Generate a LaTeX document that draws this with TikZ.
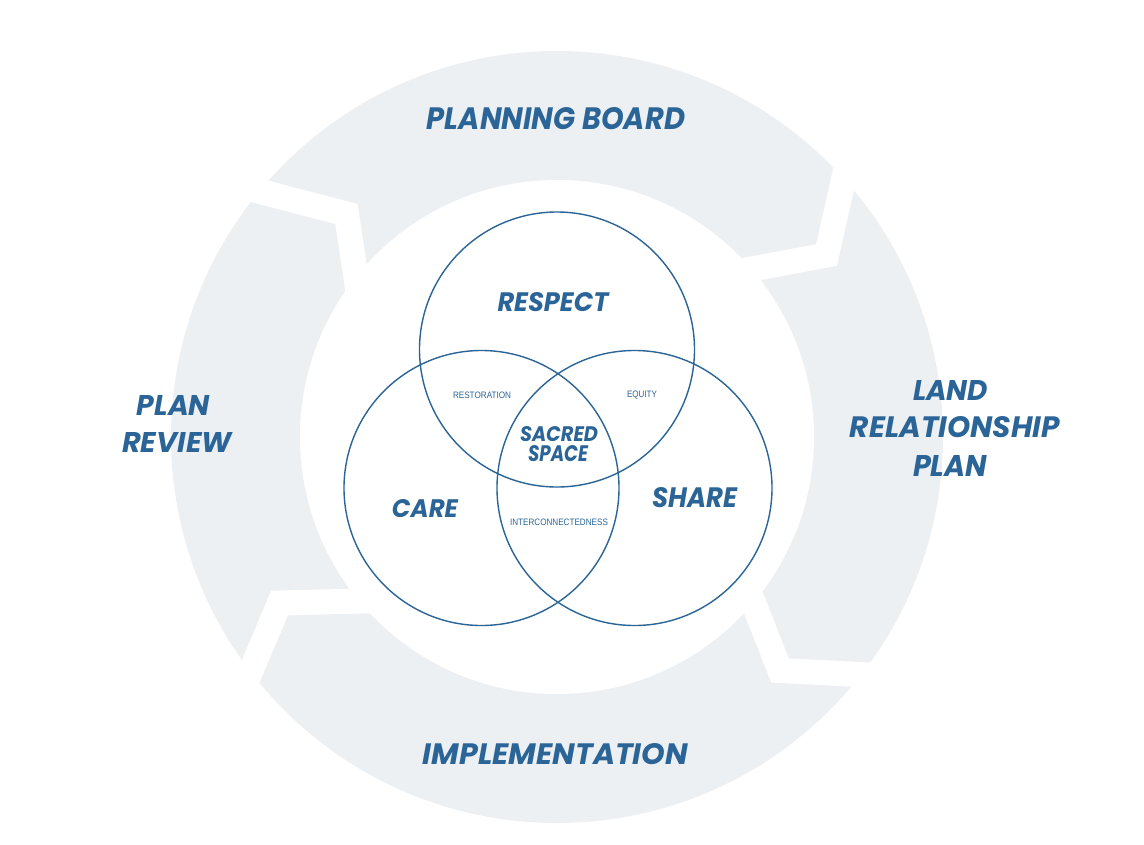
\documentclass[tikz,border=0pt]{standalone}
\usepackage{fontspec}
\setmainfont{Liberation Sans}
\newfontfamily\brushfont{Poppins}
\definecolor{ringgray}{HTML}{EDF0F3}
\definecolor{vennblue}{HTML}{2B6597}
\newcommand\bt[3]{\resizebox{#1pt}{#2pt}{\brushfont\bfseries\itshape #3}}
\newcommand\stxt[2]{\resizebox{#1pt}{6.5pt}{\fontsize{9}{9}\selectfont #2}}
\tikzset{
  brush/.style={inner sep=0pt, text=vennblue},
  smalltxt/.style={inner sep=0pt, text=vennblue},
  venn/.style={circle, draw=vennblue, line width=1.4pt, minimum size=275pt, inner sep=0pt},
  gapline/.style={draw=white, line width=25pt, line join=miter},
}
\begin{document}
\begin{tikzpicture}[x=1pt, y=-1pt]
\useasboundingbox (0,0) rectangle (1144,844);
% ring
\coordinate (c) at (557,437);
\fill[ringgray] (c) circle[radius=386pt];
\fill[white] (c) circle[radius=257pt];
% chevron gaps
\coordinate (g1o) at (243,187); \coordinate (g1m) at (346.5,214); \coordinate (g1i) at (359,298);
\coordinate (g2o) at (847,164); \coordinate (g2m) at (826.5,255); \coordinate (g2i) at (736,272);
\coordinate (g3o) at (876,675.3); \coordinate (g3m) at (780,670.5); \coordinate (g3i) at (748,589);
\coordinate (g4o) at (245,685); \coordinate (g4m) at (279.5,603); \coordinate (g4i) at (377,600.6);
\draw[gapline] (g1o) -- (g1m) -- (g1i);
\draw[gapline] (g2o) -- (g2m) -- (g2i);
\draw[gapline] (g3o) -- (g3m) -- (g3i);
\draw[gapline] (g4o) -- (g4m) -- (g4i);
% venn
\node[venn] (respectc) at (557,349.5) {};
\node[venn] (carec) at (481.5,488) {};
\node[venn] (sharec) at (634.5,488) {};
% ring labels
\node[brush] (pb) at (556,119) {\bt{258}{22}{PLANNING BOARD}};
\node[brush] (lrp1) at (950.5,390) {\bt{75}{20}{LAND}};
\node[brush] (lrp2) at (955,427.5) {\bt{210}{21}{RELATIONSHIP}};
\node[brush] (lrp3) at (950,466) {\bt{74}{21}{PLAN}};
\node[brush] (impl) at (555.5,754.5) {\bt{265}{21}{IMPLEMENTATION}};
\node[brush] (pr1) at (173.5,405) {\bt{73}{20}{PLAN}};
\node[brush] (pr2) at (177,442) {\bt{110}{20}{REVIEW}};
% venn labels
\node[brush] (respect) at (553,302.5) {\bt{111}{19}{RESPECT}};
\node[brush] (care) at (425,509) {\bt{66}{18}{CARE}};
\node[brush] (share) at (694.5,498) {\bt{85}{20}{SHARE}};
\node[brush] (sacred) at (559,434.5) {\bt{78}{15}{SACRED}};
\node[brush] (space) at (558,454) {\bt{60}{16}{SPACE}};
\node[smalltxt] (restoration) at (482,395) {\stxt{58}{RESTORATION}};
\node[smalltxt] (equity) at (642,395) {\stxt{30}{EQUITY}};
\node[smalltxt] (inter) at (559,522) {\stxt{98}{INTERCONNECTEDNESS}};
\end{tikzpicture}
\end{document}
